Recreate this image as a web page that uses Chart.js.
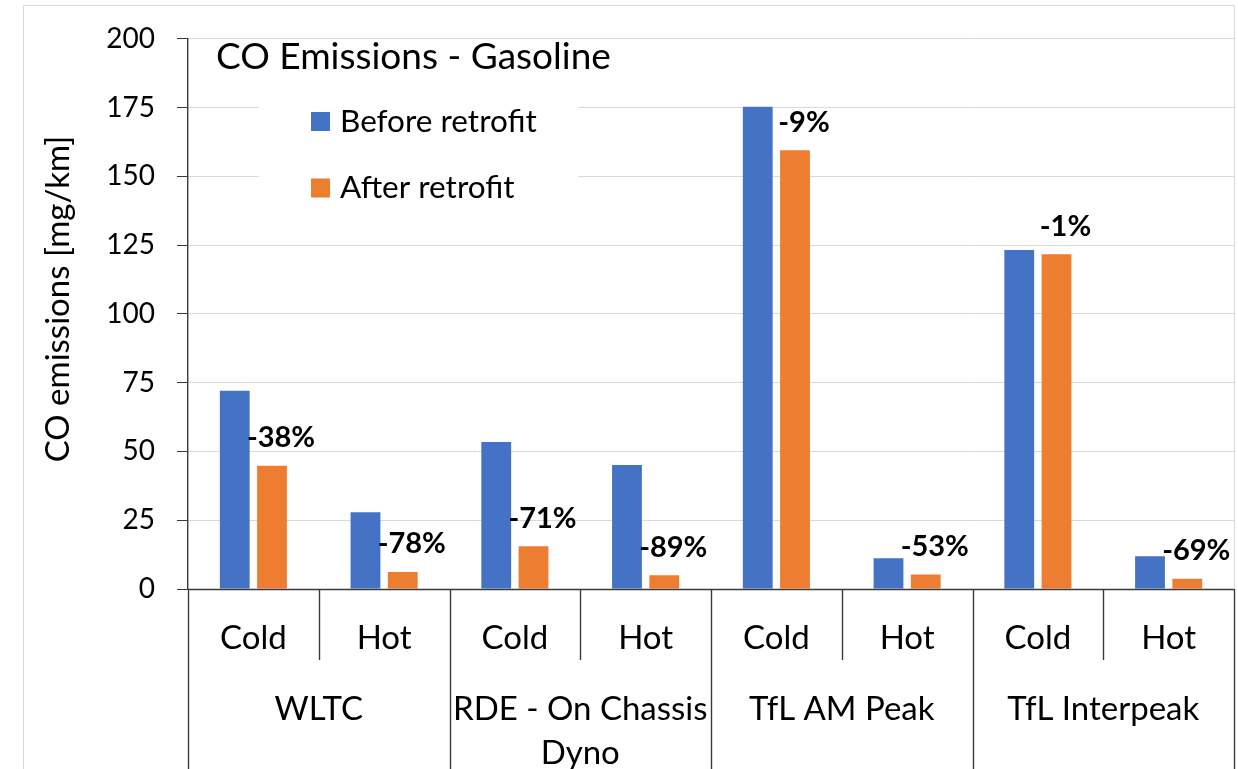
<!DOCTYPE html>
<html>
<head>
<meta charset="utf-8">
<script src="https://cdn.jsdelivr.net/npm/chart.js@4.4.0/dist/chart.umd.min.js"></script>
<style>
  html, body { margin: 0; padding: 0; background: #fff; }
  #wrap { width: 1238px; height: 769px; position: relative; overflow: hidden; }
</style>
</head>
<body>
<div id="wrap"><canvas id="c" width="1238" height="769"></canvas></div>
<script>
// Test cycles (outer axis level) and start conditions (inner axis level)
const cycles = [['WLTC'], ['RDE - On Chassis', 'Dyno'], ['TfL AM Peak'], ['TfL Interpeak']];
const conditions = ['Cold', 'Hot'];
const categories = ['WLTC Cold', 'WLTC Hot', 'RDE Cold', 'RDE Hot', 'TfL AM Peak Cold', 'TfL AM Peak Hot', 'TfL Interpeak Cold', 'TfL Interpeak Hot'];

// CO emissions in mg/km
const beforeRetrofit = [72.1, 27.9, 53.4, 45.1, 175.3, 11.2, 123.2, 11.9];
const afterRetrofit  = [44.8, 6.2, 15.5, 5.0, 159.5, 5.3, 121.7, 3.7];

// Change after retrofit, in percent
const changePct = [-38, -78, -71, -89, -9, -53, -1, -69];

// Value axis
const yMin = 0, yMax = 200, yStep = 25;

const FONT = 'Lato, "Open Sans", sans-serif';
const BLUE = '#4472C4', ORANGE = '#ED7D31';

const decor = {
  id: 'decor',
  beforeDraw(chart) {
    const ctx = chart.ctx;
    ctx.save();
    ctx.fillStyle = '#fff';
    ctx.fillRect(0, 0, chart.width, chart.height);
    ctx.strokeStyle = '#d9d9d9';
    ctx.lineWidth = 1;
    ctx.strokeRect(23.5, 5.5, 1211, 800);
    ctx.restore();
  },
  beforeDatasetsDraw(chart) {
    // legend panel sits above the gridlines
    const ctx = chart.ctx;
    ctx.save();
    ctx.fillStyle = '#fff';
    ctx.fillRect(259, 88, 319, 130);
    ctx.restore();
  },
  afterDraw(chart) {
    const ctx = chart.ctx;
    const area = chart.chartArea;
    const xs = chart.scales.x;
    const n = categories.length;
    const w = (area.right - area.left) / n;
    ctx.save();

    // title
    ctx.fillStyle = '#000';
    ctx.font = '37px ' + FONT;
    ctx.textAlign = 'left';
    ctx.textBaseline = 'middle';
    ctx.fillText('CO Emissions - Gasoline', 216, 57);

    // legend
    chart.data.datasets.forEach((ds, i) => {
      const y = 121.5 + i * 66.5;
      ctx.fillStyle = ds.backgroundColor;
      ctx.fillRect(311, y - 9.5, 19, 19);
      ctx.fillStyle = '#000';
      ctx.font = '31.5px ' + FONT;
      ctx.fillText(ds.label, 340, y);
    });

    // y-axis title
    ctx.save();
    ctx.translate(58, 299);
    ctx.rotate(-Math.PI / 2);
    ctx.textAlign = 'center';
    ctx.font = '33px ' + FONT;
    ctx.fillText('CO emissions [mg/km]', 0, 0);
    ctx.restore();

    // category axis line and separators
    ctx.strokeStyle = '#3a3a3a';
    ctx.lineWidth = 1.4;
    ctx.beginPath();
    ctx.moveTo(area.left, area.bottom + 0.5);
    ctx.lineTo(area.right, area.bottom + 0.5);
    for (let k = 0; k <= n; k++) {
      const x = Math.round(area.left + k * w) + 0.5;
      ctx.moveTo(x, area.bottom);
      ctx.lineTo(x, k % 2 === 0 ? chart.height + 5 : area.bottom + 71);
    }
    ctx.stroke();

    // inner labels
    ctx.fillStyle = '#000';
    ctx.textAlign = 'center';
    ctx.font = '33px ' + FONT;
    for (let i = 0; i < n; i++) {
      ctx.fillText(conditions[i % 2], xs.getPixelForValue(i), area.bottom + 49);
    }
    // outer labels
    cycles.forEach((lines, g) => {
      const cx = area.left + (2 * g + 1) * w;
      lines.forEach((t, j) => ctx.fillText(t, cx, area.bottom + 120 + j * 44));
    });

    // change labels above the after-retrofit bars
    const meta = chart.getDatasetMeta(1);
    ctx.font = 'bold 29px ' + FONT;
    meta.data.forEach((bar, i) => {
      ctx.fillText(changePct[i] + '%', bar.x + 9, bar.y - 28);
    });
    ctx.restore();
  }
};

new Chart(document.getElementById('c'), {
  type: 'bar',
  data: {
    labels: categories,
    datasets: [
      { label: 'Before retrofit', data: beforeRetrofit, backgroundColor: BLUE,
        categoryPercentage: 0.57, barPercentage: 0.8 },
      { label: 'After retrofit', data: afterRetrofit, backgroundColor: ORANGE,
        categoryPercentage: 0.57, barPercentage: 0.8 }
    ]
  },
  options: {
    responsive: false,
    animation: false,
    devicePixelRatio: 1,
    layout: { padding: { left: 0, right: 4, top: 35, bottom: 180 } },
    plugins: { legend: { display: false }, tooltip: { enabled: false } },
    scales: {
      x: { display: false },
      y: {
        min: yMin, max: yMax,
        ticks: { stepSize: yStep, color: '#000', font: { family: FONT, size: 28 }, padding: 22 },
        grid: { color: '#d9d9d9', lineWidth: 1, tickLength: 11, tickColor: '#3a3a3a' },
        border: { color: '#3a3a3a', width: 1.4 },
        afterFit(scale) { scale.width = 188; }
      }
    }
  },
  plugins: [decor]
});
</script>
</body>
</html>
